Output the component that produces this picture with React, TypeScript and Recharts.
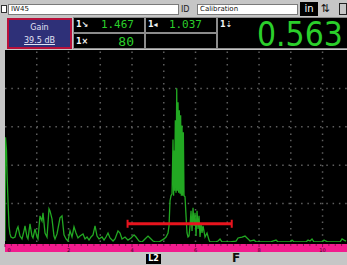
// Ultrasonic A-scan screen (flaw detector calibration view) drawn with Recharts

import { ComposedChart, Line, XAxis, YAxis, ReferenceLine } from 'recharts';

// time base in screen divisions, amplitude in % full screen height
const TIME = [
  0, 0.016, 0.047, 0.063, 0.094, 0.126, 0.157, 0.189, 0.252, 0.315, 0.378, 0.409, 0.472, 0.535, 0.598, 0.63,
  0.693, 0.724, 0.787, 0.85, 0.882, 0.945, 1.008, 1.039, 1.102, 1.165, 1.197, 1.26, 1.323, 1.386, 1.417, 1.48,
  1.543, 1.575, 1.638, 1.732, 1.795, 1.858, 1.921, 1.984, 2.047, 2.11, 2.173, 2.236, 2.299, 2.362, 2.457, 2.52,
  2.583, 2.646, 2.709, 2.772, 2.835, 2.898, 2.961, 3.055, 3.118, 3.181, 3.244, 3.307, 3.402, 3.465, 3.559, 3.622,
  3.685, 3.78, 3.874, 3.969, 4.063, 4.126, 4.22, 4.315, 4.409, 4.504, 4.567, 4.661, 4.756, 4.85, 4.945, 5.008,
  5.071, 5.134, 5.165, 5.197, 5.228, 5.26, 5.291, 5.31, 5.323, 5.342, 5.364, 5.386, 5.408, 5.427, 5.449, 5.468,
  5.49, 5.512, 5.531, 5.553, 5.575, 5.594, 5.616, 5.638, 5.669, 5.701, 5.732, 5.764, 5.795, 5.827, 5.858, 5.89,
  5.921, 5.953, 5.984, 6.016, 6.047, 6.079, 6.11, 6.142, 6.173, 6.205, 6.236, 6.299, 6.362, 6.425, 6.457, 6.614,
  6.709, 6.772, 6.835, 7.087, 7.276, 7.339, 7.465, 7.559, 7.654, 7.717, 7.843, 7.906, 8.346, 8.535, 8.598, 8.976,
  9.039, 9.102, 9.48, 9.543, 9.606, 9.669, 9.732, 9.984, 10.047, 10.11, 10.173, 10.551, 10.614, 10.677, 10.74,
];
const AMP = [
  0.5, 54.5, 47.6, 36.1, 21.5, 8.4, 4.2, 2.6, 2.1, 2.6, 6.8, 7.9, 3.1, 1.6, 5.8, 8.4,
  2.6, 1.6, 9.4, 3.1, 2.1, 6.8, 2.6, 1.6, 13.6, 11.0, 15.2, 4.7, 2.6, 17.3, 16.2, 12.0,
  3.1, 1.6, 4.2, 12.6, 13.6, 3.7, 1.6, 0.5, 5.8, 2.6, 7.9, 4.7, 2.1, 3.1, 4.2, 1.6,
  2.6, 1.0, 2.6, 3.7, 8.4, 3.1, 1.6, 2.6, 1.0, 2.6, 4.7, 2.1, 0.5, 1.6, 5.8, 4.7,
  1.6, 2.6, 1.0, 2.1, 3.7, 2.6, 0.5, 0, 1.6, 3.1, 2.1, 0.5, 0, 0, 1.0, 1.6,
  2.6, 4.7, 8.4, 21.5, 24.1, 25.1, 53.4, 24.1, 47.6, 26.7, 63.4, 25.7, 80.1, 26.7, 72.8, 25.7,
  68.6, 25.1, 66.0, 24.1, 60.7, 24.1, 57.1, 24.1, 23.6, 13.6, 4.7, 2.6, 3.1, 8.4, 16.2, 5.8,
  17.8, 8.4, 15.2, 3.1, 16.2, 6.8, 13.6, 2.6, 9.9, 4.7, 8.4, 2.6, 4.7, 1.0, 0, 0,
  0.5, 1.6, 0, 0, 0.5, 2.1, 2.6, 3.1, 1.6, 0.5, 1.0, 0, 0, 1.0, 0, 0,
  1.0, 0, 0, 1.0, 0.5, 1.6, 0, 0, 1.0, 0.5, 0, 0, 1.6, 1.0, 0.5,
];

const GATE_START = 3.86;
const GATE_END = 7.14;
const GATE_LEVEL = 9.5;

const GRID_X = [1, 2, 3, 4, 5, 6, 7, 8, 9, 10];
const GRID_Y = [20, 40, 60, 80];
const AXIS_LABELS = [0, 2, 4, 6, 8, 10];
const X_MAX = 10.77;

const FILE_NAME = 'IW45';
const SETUP_ID = 'Calibration';
const UNITS = 'in';
const GAIN = '39.5 dB';
const SOUND_PATH = '1.467';
const AMPLITUDE = '80';
const SURFACE_DIST = '1.037';
const DEPTH = '0.563';

const waveData = TIME.map((t, i) => ({ t, a: AMP[i] }));
const gateData = [
  { t: GATE_START, g: GATE_LEVEL },
  { t: GATE_END, g: GATE_LEVEL },
];
const minorTicks = Array.from({ length: 54 }, (_, i) => Math.round(i * 2) / 10);

const GREEN = '#2bcf2b';
const TRACE = '#22a822';
const GATE_RED = '#e8141e';
const GRID = '#5e5e5e';
const PINK = '#f21c8e';
const PANEL_GRAY = '#c6c6c6';

const abs = (left: number, top: number, width: number, height: number, extra: any = {}) => ({
  position: 'absolute' as const,
  left,
  top,
  width,
  height,
  boxSizing: 'border-box' as const,
  ...extra,
});

const AxisTick = (props: any) => {
  const { x, payload } = props;
  const v = payload.value;
  const major = AXIS_LABELS.some((m) => Math.abs(m - v) < 1e-6);
  return (
    <g>
      <line x1={x} x2={x} y1={244} y2={major ? 247 : 246} stroke="#8c0c52" strokeWidth={1} />
      {major && (
        <text x={v === 0 ? x + 4 : x} y={251.5} fontSize={5} fill="#3a0020" textAnchor="middle" fontFamily="DejaVu Sans">
          {v}
        </text>
      )}
    </g>
  );
};

const GateCap = (props: any) => {
  const { cx, cy, index } = props;
  return <rect key={`cap-${index}`} x={cx - 1} y={cy - 4} width={2} height={8} fill={GATE_RED} />;
};

const cell = { background: '#000', border: '1px solid #8c8c8c' };
const label = { color: '#f4f4f4', fontSize: 8, fontWeight: 700, fontFamily: 'DejaVu Sans', lineHeight: '10px' };
const mono = { color: GREEN, fontFamily: 'DejaVu Sans Mono', position: 'absolute' as const };

export default function App() {
  return (
    <div style={{ position: 'fixed', left: 0, top: 0, width: 347, height: 265, background: PANEL_GRAY, overflow: 'hidden', fontFamily: 'DejaVu Sans' }}>
      {/* top status row */}
      <div style={abs(1, 5, 6, 8, { background: '#fff', border: '1px solid #333' })} />
      <div style={abs(8, 4, 171, 11, { background: '#fff', border: '1px solid #7a7a7a', fontSize: 7, lineHeight: '9px', paddingLeft: 2, color: '#111' })}>
        {FILE_NAME}
      </div>
      <div style={abs(181, 4, 14, 11, { fontSize: 8, lineHeight: '11px', color: '#222' })}>ID</div>
      <div style={abs(197, 4, 101, 11, { background: '#fff', border: '1px solid #7a7a7a', fontSize: 7, lineHeight: '9px', paddingLeft: 2, color: '#111' })}>
        {SETUP_ID}
      </div>
      <div style={abs(300, 2, 18, 14, { background: '#000', color: '#fff', fontSize: 10, lineHeight: '14px', textAlign: 'center' })}>{UNITS}</div>
      <div style={abs(320, 2, 10, 14, { fontSize: 11, lineHeight: '14px', color: '#111', textAlign: 'center' })}>⇅</div>
      <div style={abs(339, 3, 8, 12, { border: '1px solid #222' })} />

      {/* readings row */}
      <div style={abs(7, 18, 65, 31, { background: '#2e3078', border: '2px solid #b8103a', color: '#e2e2f4', textAlign: 'center', fontSize: 8 })}>
        <div style={{ lineHeight: '10px', marginTop: 3 }}>Gain</div>
        <div style={{ lineHeight: '10px', marginTop: 3, textDecoration: 'underline' }}>{GAIN}</div>
      </div>
      <div style={abs(73, 17, 72, 16, cell)}>
        <div style={{ ...label, position: 'absolute', left: 2, top: 2 }}>1↘</div>
        <div style={{ ...mono, right: 10, top: 0, fontSize: 11, lineHeight: '14px' }}>{SOUND_PATH}</div>
      </div>
      <div style={abs(73, 33, 72, 16, cell)}>
        <div style={{ ...label, position: 'absolute', left: 2, top: 3 }}>1×</div>
        <div style={{ ...mono, right: 10, top: 0, fontSize: 13, lineHeight: '15px' }}>{AMPLITUDE}</div>
      </div>
      <div style={abs(145, 17, 72, 16, cell)}>
        <div style={{ ...label, position: 'absolute', left: 2, top: 2 }}>1◂</div>
        <div style={{ ...mono, right: 14, top: 0, fontSize: 11, lineHeight: '14px' }}>{SURFACE_DIST}</div>
      </div>
      <div style={abs(145, 33, 72, 16, cell)} />
      <div style={abs(217, 17, 132, 32, cell)}>
        <div style={{ ...label, position: 'absolute', left: 2, top: 2 }}>1⇣</div>
      </div>
      <svg width={128} height={44} style={{ position: 'absolute', left: 217, top: 9, overflow: 'visible' }}>
        <text transform="translate(40,37) scale(1,1.13)" x={0} y={0} fontSize={30} fill={GREEN} fontFamily="DejaVu Sans">
          {DEPTH}
        </text>
      </svg>

      {/* screen background and range bar */}
      <div style={abs(5, 50, 342, 194, { background: '#000' })} />
      <div style={abs(5, 244, 342, 8, { background: PINK })} />

      <div style={{ position: 'absolute', left: 0, top: 0 }}>
        <ComposedChart width={347} height={265} data={waveData} margin={{ top: 50, right: 0, bottom: 13, left: 5 }}>
          <XAxis
            dataKey="t"
            type="number"
            domain={[0, X_MAX]}
            ticks={minorTicks}
            interval={0}
            axisLine={false}
            tickLine={false}
            height={10}
            tick={AxisTick}
            allowDataOverflow
          />
          <YAxis type="number" domain={[0, 100]} hide allowDataOverflow />
          {GRID_X.map((v) => (
            <ReferenceLine key={`gx-${v}`} x={v} stroke={GRID} strokeWidth={1.5} strokeDasharray="1.5 4.8" />
          ))}
          {GRID_Y.map((v) => (
            <ReferenceLine key={`gy-${v}`} y={v} stroke={GRID} strokeWidth={1.5} strokeDasharray="1.5 4.8" />
          ))}
          <Line dataKey="a" type="linear" stroke={TRACE} strokeWidth={1.3} dot={false} isAnimationActive={false} />
          <Line data={gateData} dataKey="g" type="linear" stroke={GATE_RED} strokeWidth={3} dot={GateCap} isAnimationActive={false} />
        </ComposedChart>
      </div>

      {/* bottom soft-key strip */}
      <div style={abs(146, 254, 15, 10, { background: '#000', color: '#fff', fontSize: 8, fontWeight: 700, lineHeight: '10px', textAlign: 'center' })}>L2</div>
      <div style={abs(232, 252, 12, 13, { color: '#111', fontSize: 12, fontWeight: 700, lineHeight: '13px' })}>F</div>
    </div>
  );
}
